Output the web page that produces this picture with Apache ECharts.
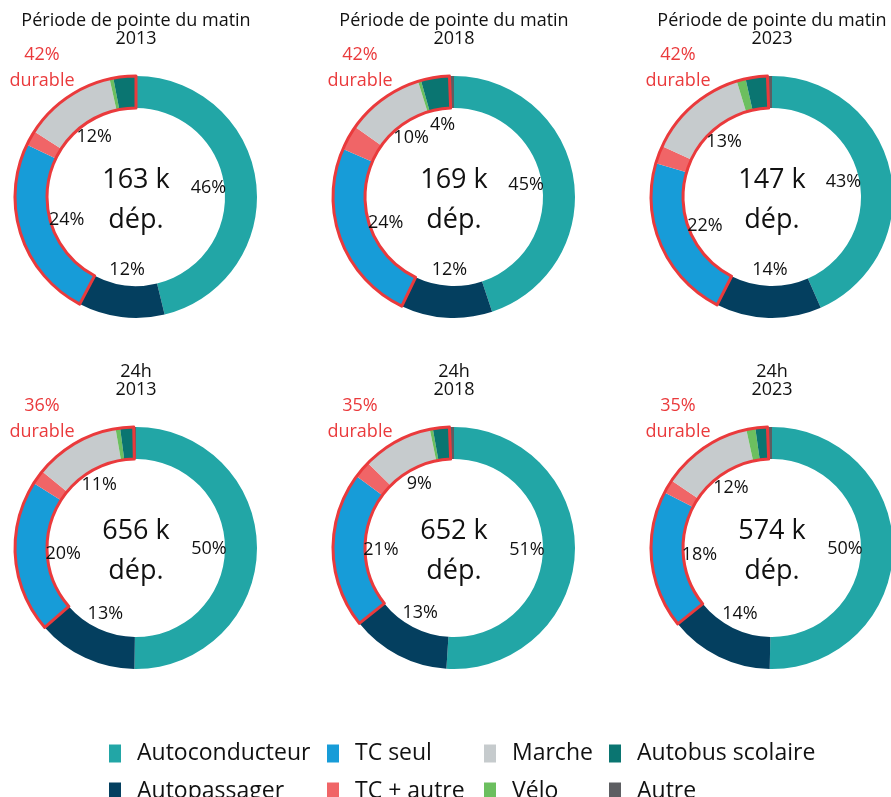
<!DOCTYPE html>
<html>
<head>
<meta charset="utf-8">
<script src="https://cdn.jsdelivr.net/npm/echarts@6/dist/echarts.min.js"></script>
<style>
html, body { margin: 0; padding: 0; background: #fff; }
#main { width: 891px; height: 797px; }
</style>
</head>
<body>
<div id="main"></div>
<script>
var modes = ['Autoconducteur', 'Autopassager', 'TC seul', 'TC + autre', 'Marche', 'Vélo', 'Autobus scolaire', 'Autre'];
var colors = ['#22a6a6', '#043f5f', '#179cd8', '#f06567', '#c6cbcd', '#6cbf5f', '#0a7571', '#5d5e62'];

var periods = ['Période de pointe du matin', 'Période de pointe du matin', 'Période de pointe du matin', '24h', '24h', '24h'];
var years = ['2013', '2018', '2023', '2013', '2018', '2023'];
var totals = [163, 169, 147, 656, 652, 574];      // k déplacements
var durableShares = [42, 42, 42, 36, 35, 35];     // % durable

// parts modales (%), dans l'ordre de "modes"
var pm2013 = [46.2, 11.5, 24.4, 2.0, 12.4, 0.5, 3.0, 0.0];
var pm2018 = [44.9, 12.2, 24.4, 3.3, 10.4, 0.4, 3.8, 0.6];
var pm2023 = [43.4, 14.1, 22.0, 2.4, 13.4, 1.2, 2.9, 0.6];
var j2013 = [50.2, 13.4, 20.4, 1.9, 11.4, 0.6, 1.8, 0.3];
var j2018 = [51.0, 13.3, 20.8, 2.3, 9.4, 0.4, 2.2, 0.6];
var j2023 = [50.3, 13.9, 18.4, 1.8, 12.2, 1.2, 1.6, 0.6];
var shares = [pm2013, pm2018, pm2023, j2013, j2018, j2023];

// étiquettes affichées (1 = oui)
var labelShown = [
    [1, 1, 1, 0, 1, 0, 0, 0],
    [1, 1, 1, 0, 1, 0, 1, 0],
    [1, 1, 1, 0, 1, 0, 0, 0],
    [1, 1, 1, 0, 1, 0, 0, 0],
    [1, 1, 1, 0, 1, 0, 0, 0],
    [1, 1, 1, 0, 1, 0, 0, 0]
];

var FONT = '"Open Sans", Lato, sans-serif';
var RED = '#ea3a3c';
var colX = [136, 454, 772];
var rowY = [197, 548];

function sum(arr, a, b) {
    var s = 0;
    for (var i = a; i <= b; i++) s += arr[i];
    return s;
}

var series = [];
var graphics = [];

for (var i = 0; i < shares.length; i++) {
    var cx = colX[i % 3], cy = rowY[Math.floor(i / 3)];
    var d = shares[i];

    // anneau principal
    series.push({
        type: 'pie',
        center: [cx, cy],
        radius: [89, 121],
        startAngle: 90,
        silent: true,
        label: { show: false },
        labelLine: { show: false },
        data: modes.map(function (m, k) {
            return { name: m, value: d[k], itemStyle: { color: colors[k] } };
        })
    });

    // contour rouge du groupe "durable" (TC seul -> Autobus scolaire)
    series.push({
        type: 'pie',
        center: [cx, cy],
        radius: [89, 121],
        startAngle: 90,
        silent: true,
        z: 5,
        label: { show: false },
        labelLine: { show: false },
        data: [
            { name: 'auto', value: sum(d, 0, 1), itemStyle: { color: 'transparent', borderWidth: 0 } },
            { name: 'durable', value: sum(d, 2, 6), itemStyle: { color: 'transparent', borderColor: RED, borderWidth: 3 } },
            { name: 'autre', value: sum(d, 7, 7), itemStyle: { color: 'transparent', borderWidth: 0 } }
        ]
    });

    // pourcentages à l'intérieur de l'anneau
    (function (show) {
        series.push({
            type: 'pie',
            center: [cx, cy],
            radius: [50, 90],
            startAngle: 90,
            silent: true,
            z: 6,
            labelLine: { show: false },
            label: {
                position: 'inside',
                fontFamily: FONT,
                fontSize: 18,
                color: '#111',
                formatter: function (p) { return Math.round(p.value) + '%'; }
            },
            data: modes.map(function (m, k) {
                return {
                    name: m + ' ',
                    value: d[k],
                    itemStyle: { color: 'transparent' },
                    label: { show: show[k] === 1 }
                };
            })
        });
    })(labelShown[i]);

    var txt = function (t, x, y, size, fill) {
        graphics.push({
            type: 'text',
            silent: true,
            style: {
                text: t, x: x, y: y,
                font: size + 'px ' + FONT,
                fill: fill,
                align: 'center', verticalAlign: 'middle',
                textAlign: 'center', textVerticalAlign: 'middle'
            }
        });
    };
    txt(periods[i], cx, cy - 176, 18, '#111');
    txt(years[i], cx, cy - 158, 18, '#111');
    txt(durableShares[i] + '%', cx - 94, cy - 142, 18, RED);
    txt('durable', cx - 94, cy - 116, 18, RED);
    txt(totals[i] + ' k', cx, cy - 17, 27, '#111');
    txt('dép.', cx, cy + 23, 27, '#111');
}

// légende : 4 colonnes x 2 rangées, une légende par case
var legendLeft = [109, 327, 484, 609];
var legendTop = [742, 780];
var legends = modes.map(function (m, k) {
    return {
        left: legendLeft[Math.floor(k / 2)],
        top: legendTop[k % 2],
        padding: 0,
        icon: 'rect',
        itemWidth: 12,
        itemHeight: 18,
        selectedMode: false,
        textStyle: { fontFamily: FONT, fontSize: 23, color: '#111', padding: [0, 0, 0, 11] },
        data: [m]
    };
});

var myChart = echarts.init(document.getElementById('main'));
var option = {
    animation: false,
    color: colors,
    legend: legends,
    graphic: graphics,
    series: series
};
myChart.setOption(option, true);
</script>
</body>
</html>
